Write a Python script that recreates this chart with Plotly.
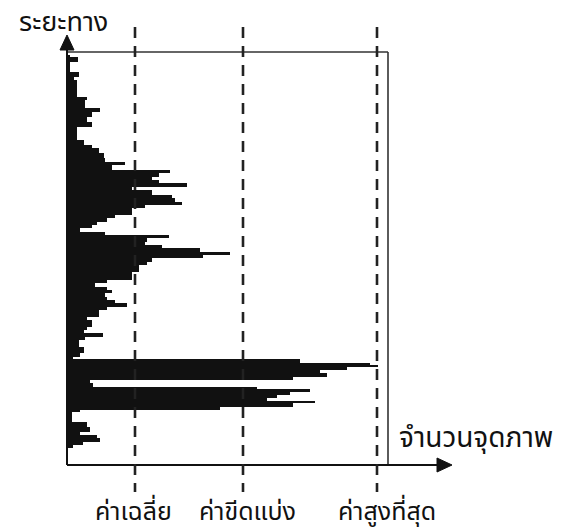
import plotly.graph_objects as go

# Horizontal projection profile: distance (row) edges and pixel counts per band
dist_edges = [0, 2, 7, 17, 22, 25, 42, 45, 53, 57, 62, 67, 72, 85, 90, 93, 98, 103,
              107, 110, 115, 118, 122, 125, 128, 132, 135, 140, 143, 147, 150, 153,
              157, 160, 163, 167, 170, 173, 177, 180, 183, 187, 190, 193, 197, 200,
              203, 207, 210, 212, 217, 225, 228, 232, 235, 238, 242, 245, 248, 252,
              255, 262, 265, 268, 272, 275, 278, 282, 285, 288, 292, 298, 302, 304,
              308, 310, 312, 315, 318, 322, 325, 328, 332, 334, 337, 340, 343, 346,
              348, 352, 355, 357, 367, 372, 377, 380, 383, 387, 390, 393]
counts = [3, 11, 3, 12, 7, 10, 20, 18, 33, 25, 20, 25, 10, 17, 25, 32, 37, 38,
          58, 45, 103, 92, 85, 92, 120, 65, 85, 105, 108, 115, 78, 65, 65, 48,
          40, 30, 25, 13, 38, 102, 80, 78, 95, 133, 163, 136, 85, 80, 72, 72,
          65, 40, 28, 40, 45, 38, 40, 48, 60, 40, 32, 20, 25, 25, 20, 17, 36, 18,
          12, 12, 17, 13, 6, 233, 303, 311, 280, 253, 260, 226, 23, 26, 190, 243,
          223, 210, 200, 248, 226, 153, 13, 5, 20, 23, 13, 30, 33, 16, 6]

mean_val = 68
threshold_val = 176
max_val = max(counts)

y_label = "ระยะทาง"
x_label = "จำนวนจุดภาพ"
marker_labels = ["ค่าเฉลี่ย", "ค่าขีดแบ่ง", "ค่าสูงที่สุด"]

centers = [(a + b) / 2 for a, b in zip(dist_edges[:-1], dist_edges[1:])]
widths = [b - a for a, b in zip(dist_edges[:-1], dist_edges[1:])]

fig = go.Figure()
fig.add_trace(go.Bar(orientation="h", y=centers, x=counts, width=widths,
                     marker=dict(color="#111111", line=dict(width=0)),
                     hoverinfo="skip", showlegend=False))

y_top, y_axis_end = -3, 410
box_right = 321
x_arrow_end = 385
FONT = "Noto Sans Thai, Loma, Garuda, Tahoma, DejaVu Sans, sans-serif"
shapes = []
# box
shapes.append(dict(type="line", x0=0, x1=box_right, y0=y_top, y1=y_top,
                   line=dict(color="#333333", width=1.6)))
shapes.append(dict(type="line", x0=box_right, x1=box_right, y0=y_top, y1=y_axis_end,
                   line=dict(color="#333333", width=1.6)))
# axes
shapes.append(dict(type="line", x0=0, x1=0, y0=-6, y1=y_axis_end,
                   line=dict(color="#111111", width=2)))
shapes.append(dict(type="line", x0=0, x1=x_arrow_end - 12, y0=y_axis_end, y1=y_axis_end,
                   line=dict(color="#111111", width=2)))
# arrowheads
shapes.append(dict(type="path", path="M -7 -5 L 0 -20 L 7 -5 Z",
                   fillcolor="#111111", line=dict(color="#111111", width=1)))
shapes.append(dict(type="path",
                   path=f"M {x_arrow_end-15} {y_axis_end-7} L {x_arrow_end} {y_axis_end} L {x_arrow_end-15} {y_axis_end+7} Z",
                   fillcolor="#111111", line=dict(color="#111111", width=1)))
# dashed marker lines
for v in [mean_val, threshold_val, max_val - 1]:
    shapes.append(dict(type="line", x0=v, x1=v, y0=-28, y1=437,
                       line=dict(color="#222222", width=2.6, dash="11px,8px")))

annotations = [
    dict(x=-4, y=-33, text=y_label, showarrow=False, font=dict(size=27, color="#111111", family=FONT)),
    dict(x=330, y=383, text=x_label, showarrow=False, xanchor="left",
         font=dict(size=28, color="#111111", family=FONT)),
]
for xv, t in zip([66, 180, 320], marker_labels):
    annotations.append(dict(x=xv, y=457, text=t, showarrow=False,
                            font=dict(size=25, color="#111111", family=FONT)))

fig.update_layout(
    width=563, height=531, margin=dict(l=0, r=0, t=0, b=0),
    paper_bgcolor="white", plot_bgcolor="white",
    xaxis=dict(range=[-67, 496], visible=False, fixedrange=True),
    yaxis=dict(range=[476, -55], visible=False, fixedrange=True),
    shapes=shapes, annotations=annotations, bargap=0,
)
fig.write_html("out.html", config={"displayModeBar": False},
               post_script="document.body.style.margin='0';")
